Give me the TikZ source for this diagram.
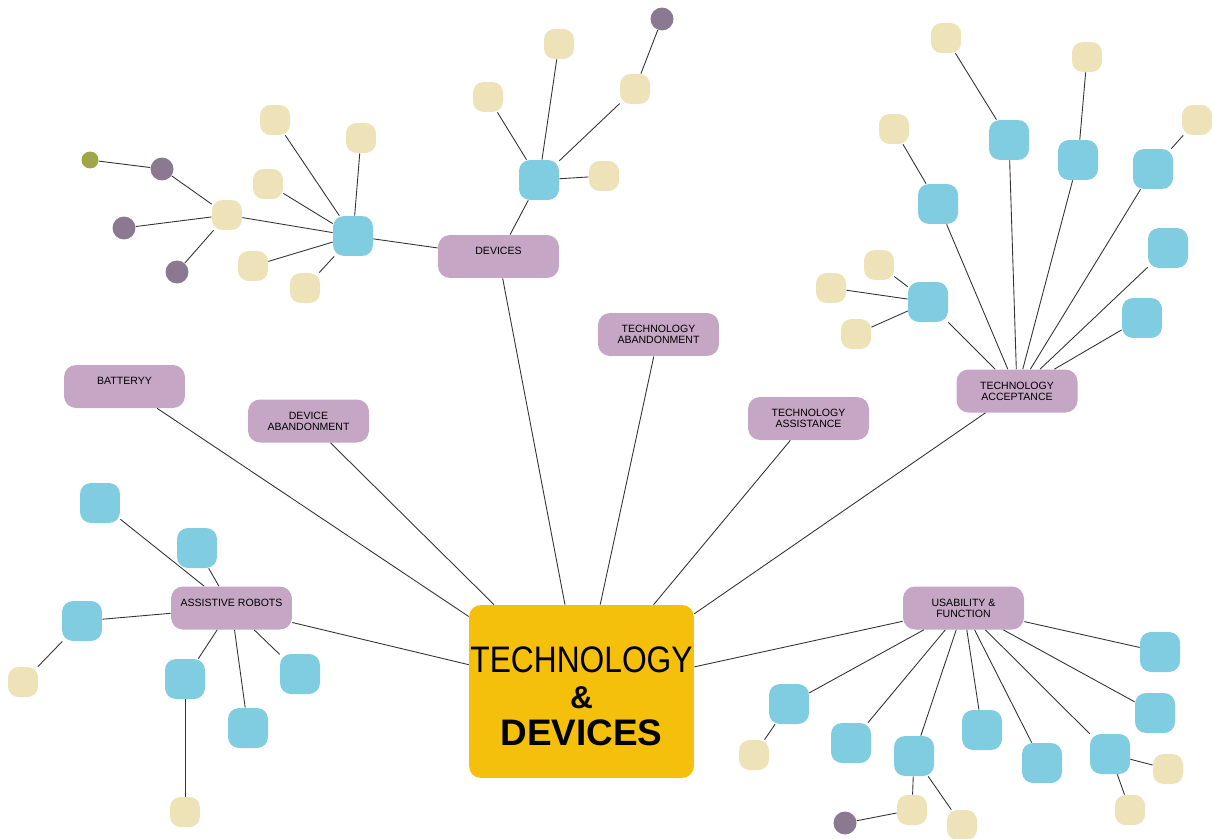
\documentclass[tikz,border=0pt]{standalone}
\usepackage{fontspec}
\setmainfont{Liberation Sans}
\usepackage{xcolor}
\usepackage{graphicx}
\definecolor{topicpurple}{HTML}{C5A6C4}
\definecolor{leafblue}{HTML}{80CCE0}
\definecolor{leafbeige}{HTML}{EEE3B8}
\definecolor{dotpurple}{HTML}{8B7991}
\definecolor{dotolive}{HTML}{A0A646}
\definecolor{coreyellow}{HTML}{F5C00C}

\begin{document}
\begin{tikzpicture}[x=0.02cm, y=-0.02cm,
	topic/.style={fill=topicpurple, rounded corners=0.24cm, minimum width=2.42cm, minimum height=0.86cm, inner sep=0pt, align=center, font=\fontsize{6}{6.4}\selectfont},
	bluebox/.style={fill=leafblue, rounded corners=0.22cm, minimum size=0.8cm, inner sep=0pt},
	beigebox/.style={fill=leafbeige, rounded corners=0.21cm, minimum size=0.6cm, inner sep=0pt},
	purpledot/.style={circle, fill=dotpurple, minimum size=0.46cm, inner sep=0pt},
	olivedot/.style={circle, fill=dotolive, minimum size=0.34cm, inner sep=0pt},
	conn/.style={draw=black!80, line width=0.5pt}]
		\useasboundingbox (0,0) rectangle (1213,838);

		\node[fill=coreyellow, rounded corners=0.24cm, minimum width=4.5cm, minimum height=3.46cm, inner sep=0pt, align=center, font=\fontsize{21}{21}\selectfont] (core) at (581.5,691.5)
			{\rule{0pt}{20pt}\scalebox{0.86}[1]{TECHNOLOGY}\\ {\fontsize{18}{21}\selectfont\bfseries\&}\\ \textbf{DEVICES}};

		\node[topic] (tBattery) at (124.5,386.5) {BATTERYY\\ \mbox{}};
		\node[topic] (tDevAband) at (308.5,421) {DEVICE\\ABANDONMENT};
		\node[topic] (tRobots) at (231.5,608) {ASSISTIVE ROBOTS\\ \mbox{}};
		\node[topic] (tDevices) at (498.5,256.5) {DEVICES\\ \mbox{}};
		\node[topic] (tTechAband) at (658.5,334.5) {TECHNOLOGY\\ABANDONMENT};
		\node[topic] (tTechAssist) at (808.5,418.5) {TECHNOLOGY\\ASSISTANCE};
		\node[topic] (tTechAccept) at (1017,391) {TECHNOLOGY\\ACCEPTANCE};
		\node[topic] (tUsability) at (963.5,608) {USABILITY \&\\FUNCTION};

		\foreach \t in {tBattery, tDevAband, tRobots, tDevices, tTechAband, tTechAssist, tTechAccept, tUsability}
			\draw[conn] (\t) -- (core);

		\node[bluebox] (cLeft) at (353,236) {};
		\node[beigebox] (bHub) at (227,215) {};
		\node[beigebox] (bL1) at (275,120) {};
		\node[beigebox] (bL2) at (361,138) {};
		\node[beigebox] (bL3) at (268,184) {};
		\node[beigebox] (bL4) at (253,266) {};
		\node[beigebox] (bL5) at (305,288) {};
		\node[purpledot] (pL1) at (162,169) {};
		\node[purpledot] (pL2) at (124,228) {};
		\node[purpledot] (pL3) at (177,272) {};
		\node[olivedot] (oL) at (90,160) {};
		\draw[conn] (oL) -- (pL1);
		\foreach \p in {pL1, pL2, pL3}
			\draw[conn] (\p) -- (bHub);
		\foreach \b in {bHub, bL1, bL2, bL3, bL4, bL5}
			\draw[conn] (\b) -- (cLeft);
		\draw[conn] (cLeft) -- (tDevices);

		\node[bluebox] (cDev) at (539,180) {};
		\node[beigebox] (bD1) at (559,44) {};
		\node[beigebox] (bD2) at (488,97) {};
		\node[beigebox] (bD3) at (635,89) {};
		\node[beigebox] (bD4) at (604,176) {};
		\node[purpledot] (pD) at (662,19) {};
		\draw[conn] (pD) -- (bD3);
		\foreach \b in {bD1, bD2, bD3, bD4}
			\draw[conn] (\b) -- (cDev);
		\draw[conn] (cDev) -- (tDevices);

		\node[bluebox] (cA1) at (1009,140) {};
		\node[bluebox] (cA2) at (1078,160) {};
		\node[bluebox] (cA3) at (1153,169) {};
		\node[bluebox] (cA4) at (938,204) {};
		\node[bluebox] (cA5) at (1168,248) {};
		\node[bluebox] (cA6) at (1142,318) {};
		\node[bluebox] (cA7) at (928,302) {};
		\node[beigebox] (bA1) at (946,38) {};
		\node[beigebox] (bA2) at (1087,57) {};
		\node[beigebox] (bA3) at (1197,120) {};
		\node[beigebox] (bA4) at (894,129) {};
		\node[beigebox] (bA5) at (879,265) {};
		\node[beigebox] (bA6) at (831,288) {};
		\node[beigebox] (bA7) at (856,334) {};
		\draw[conn] (bA1) -- (cA1);
		\draw[conn] (bA2) -- (cA2);
		\draw[conn] (bA3) -- (cA3);
		\draw[conn] (bA4) -- (cA4);
		\foreach \b in {bA5, bA6, bA7}
			\draw[conn] (\b) -- (cA7);
		\foreach \c in {cA1, cA2, cA3, cA4, cA5, cA6, cA7}
			\draw[conn] (\c) -- (tTechAccept);

		\node[bluebox] (cR1) at (100,503) {};
		\node[bluebox] (cR2) at (197,548) {};
		\node[bluebox] (cR3) at (82,621) {};
		\node[bluebox] (cR4) at (185,679) {};
		\node[bluebox] (cR5) at (248,728) {};
		\node[bluebox] (cR6) at (300,674) {};
		\node[beigebox] (bR1) at (23,682) {};
		\node[beigebox] (bR2) at (185,812) {};
		\draw[conn] (bR1) -- (cR3);
		\draw[conn] (bR2) -- (cR4);
		\foreach \c in {cR1, cR2, cR3, cR4, cR5, cR6}
			\draw[conn] (\c) -- (tRobots);

		\node[bluebox] (cU1) at (789,704) {};
		\node[bluebox] (cU2) at (851,743) {};
		\node[bluebox] (cU3) at (914,756) {};
		\node[bluebox] (cU4) at (982,730) {};
		\node[bluebox] (cU5) at (1042,763) {};
		\node[bluebox] (cU6) at (1110,754) {};
		\node[bluebox] (cU7) at (1155,713) {};
		\node[bluebox] (cU8) at (1160,652) {};
		\node[beigebox] (bU1) at (754,755) {};
		\node[beigebox] (bU2) at (912,810) {};
		\node[beigebox] (bU3) at (962,825) {};
		\node[beigebox] (bU4) at (1168,769) {};
		\node[beigebox] (bU5) at (1130,810) {};
		\node[purpledot] (pU) at (845,823) {};
		\draw[conn] (bU1) -- (cU1);
		\draw[conn] (bU2) -- (cU3);
		\draw[conn] (bU3) -- (cU3);
		\draw[conn] (pU) -- (bU2);
		\draw[conn] (bU4) -- (cU6);
		\draw[conn] (bU5) -- (cU6);
		\foreach \c in {cU1, cU2, cU3, cU4, cU5, cU6, cU7, cU8}
			\draw[conn] (\c) -- (tUsability);
	\end{tikzpicture}
\end{document}
